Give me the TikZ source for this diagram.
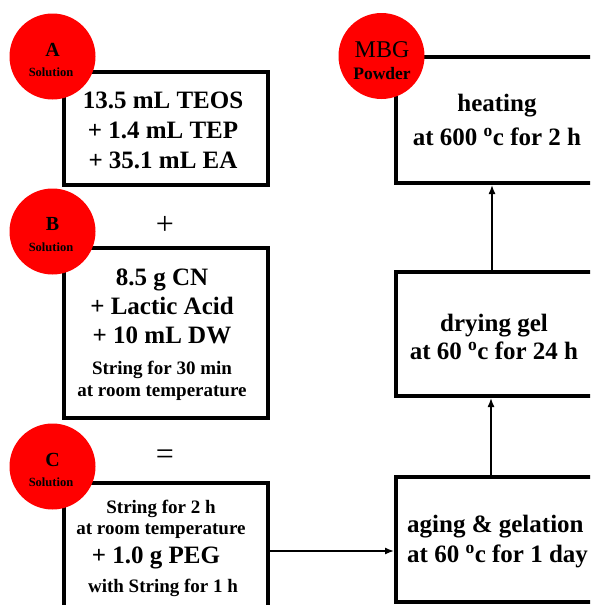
\documentclass[tikz,border=0pt]{standalone}
\usepackage{fontspec}
\setmainfont{Liberation Serif}
\usetikzlibrary{arrows.meta}
\tikzset{
  box/.style={draw=black, line width=4pt, fill=white, inner sep=0pt},
  dot/.style={circle, fill=red, minimum size=86pt, inner sep=0pt},
  big/.style={font=\bfseries\fontsize{25}{30}\selectfont, align=center, inner sep=0pt},
  small/.style={font=\bfseries\fontsize{19}{22}\selectfont, align=center, inner sep=0pt},
  lbl/.style={font=\bfseries\fontsize{20}{22}\selectfont, inner sep=0pt},
  sub/.style={font=\bfseries\fontsize{12.5}{14}\selectfont, inner sep=0pt},
  op/.style={font=\fontsize{32}{34}\selectfont, inner sep=0pt},
  flow/.style={line width=1.4pt, -{Latex[length=9pt,width=7pt]}},
}
\newcommand{\degc}{\textsuperscript{o}c}
\begin{document}
\begin{tikzpicture}[x=1pt,y=-1pt]
\useasboundingbox (0,0) rectangle (590,605);
\clip (0,0) rectangle (590,605);
\fill[white] (0,0) rectangle (590,605);
% left boxes
\node[box, minimum width=204pt, minimum height=113pt] (boxA) at (166,128.5) {};
\node[box, minimum width=204pt, minimum height=170pt] (boxB) at (166,333) {};
\node[box, minimum width=204pt, minimum height=170pt] (boxC) at (166,568) {};
% right boxes
\node[box, minimum width=230pt, minimum height=126pt] (heat) at (511,120) {};
\node[box, minimum width=230pt, minimum height=124pt] (dry) at (511,334) {};
\node[box, minimum width=230pt, minimum height=125pt] (aging) at (511,539.5) {};
% texts
\node[big] (tA) at (163,130) {13.5 mL TEOS\\+ 1.4 mL TEP\\+ 35.1 mL EA};
\node[big, font=\bfseries\fontsize{25}{29}\selectfont] (tB1) at (162,306) {8.5 g CN\\+ Lactic Acid\\+ 10 mL DW};
\node[small] (tB2) at (162,381) {String for 30 min\\at room temperature};
\node[small, font=\bfseries\fontsize{19}{21}\selectfont] (tC1) at (161,519.5) {String for 2 h\\at room temperature};
\node[big] (tC2) at (156,558) {+ 1.0 g PEG};
\node[small] (tC3) at (163,588) {with String for 1 h};
\node[big, font=\bfseries\fontsize{25}{34}\selectfont] (tHeat) at (497,120) {heating\\at 600 \degc{} for 2 h};
\node[big, font=\bfseries\fontsize{25}{28}\selectfont] (tDry) at (494,337) {drying gel\\at 60 \degc{} for 24 h};
\node[big, font=\bfseries\fontsize{25}{30}\selectfont, align=left, anchor=west] (tAge) at (407,542) {aging \& gelation\\at 60 \degc{} for 1 day};
\node[op] (plus) at (165,225) {+};
\node[op] (eq) at (165,457) {=};
% circles
\node[dot] (cA) at (52.5,56.5) {};
\node[lbl] (lA) at (52.5,50) {A};
\node[sub] (sA) at (51,72) {Solution};
\node[dot] (cB) at (52.5,231.5) {};
\node[lbl] (lB) at (52.5,224) {B};
\node[sub] (sB) at (51,247) {Solution};
\node[dot] (cC) at (52.5,466.5) {};
\node[lbl] (lC) at (52.5,460) {C};
\node[sub] (sC) at (51,482) {Solution};
\node[dot] (cM) at (381.5,56) {};
\node[font=\fontsize{24}{26}\selectfont, inner sep=0pt] (lM) at (382,50) {MBG};
\node[font=\bfseries\fontsize{17.5}{19}\selectfont, inner sep=0pt] (sM) at (382,74) {Powder};
% connectors
\coordinate (cout) at (boxC.east |- 0,551);
\draw[flow] (cout) -- (aging.west |- cout);
\draw[flow] (aging.north -| 491,0) -- (dry.south -| 491,0);
\draw[flow] (dry.north -| 492,0) -- (heat.south -| 492,0);
\end{tikzpicture}
\end{document}
